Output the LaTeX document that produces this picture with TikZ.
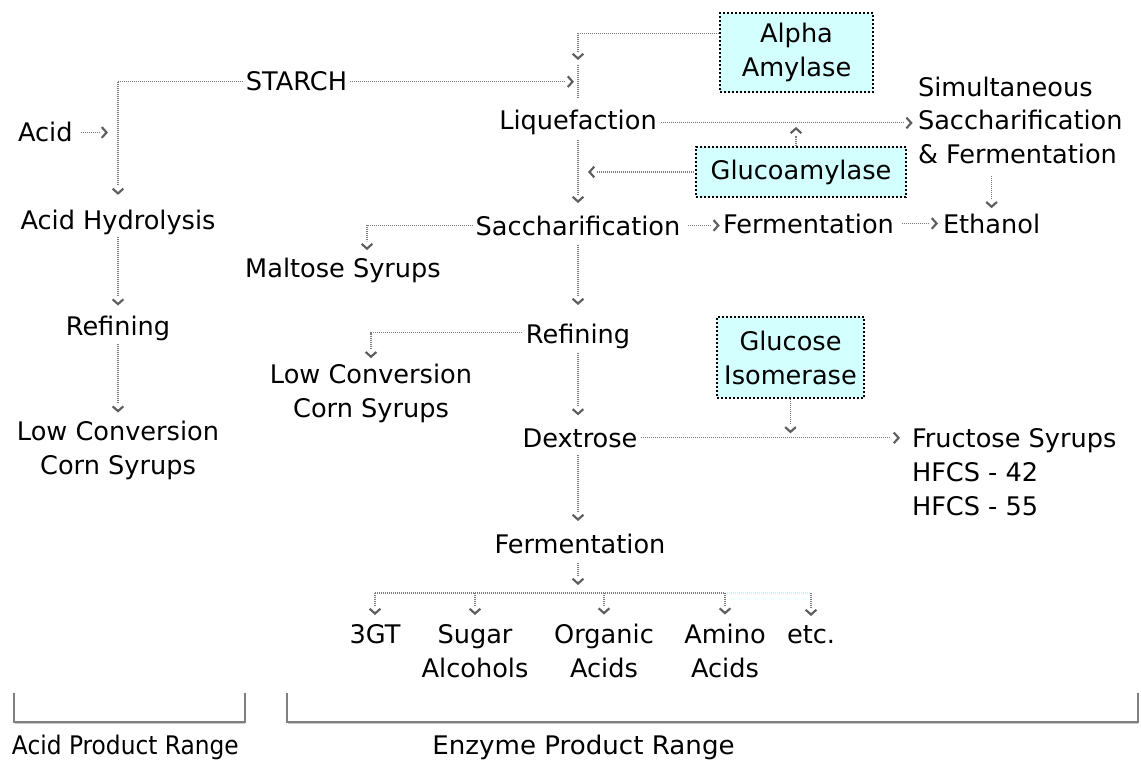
\documentclass[tikz,border=0pt]{standalone}
\usepackage{fontspec}
\setmainfont{DejaVu Sans}
\usepackage{graphicx}
\usetikzlibrary{arrows.meta,calc,decorations.markings}
\definecolor{linegray}{HTML}{7A7A7A}
\definecolor{chevgray}{HTML}{5E5E5E}
\definecolor{boxcyan}{HTML}{D4FFFF}
\definecolor{fadecyan}{HTML}{BFF2F2}
\definecolor{brgray}{HTML}{808080}
\definecolor{brshade}{HTML}{C8C8C8}
\newcommand\mainsz{\fontsize{19.2pt}{25.5pt}\selectfont}
\tikzset{chev/.tip={Straight Barb[length=3.6pt,width=8pt,line width=1.6pt,color=chevgray]}}
\begin{document}
\begin{tikzpicture}[x=0.75pt,y=-0.75pt,
  lbl/.style={inner sep=0pt, outer sep=0pt, align=center, font=\mainsz, anchor=base},
  lbll/.style={inner sep=0pt, outer sep=0pt, align=left, font=\mainsz, anchor=base west},
  enzbox/.style={draw=black, fill=boxcyan, line width=1.5pt, dash pattern=on 1.5pt off 1.5pt, inner sep=0pt, align=center, font=\mainsz},
  conn/.style={draw=linegray, line width=0.8pt, dash pattern=on 0.75pt off 0.75pt},
  % dotted connector that stops short of a separate chevron; #1 = gap between chevron tip and path end
  arr/.style={conn, shorten >=#1+6.5pt,
    postaction={decorate, decoration={markings, mark=at position -#1 with {\arrow{chev}}}}},
  arr/.default=0.01pt,
  bracket/.style={draw=brgray, line width=0.9pt},
  brshadow/.style={draw=brshade, line width=0.9pt},
]
\useasboundingbox (0,0) rectangle (1141,763);

% ---- nodes (multi-line nodes are placed by the baseline of their last line) ----
\node[lbl] (starch) at (296.5,91) {STARCH};
\node[lbll] (acid) at (18,142) {Acid};
\node[lbl] (hyd) at (118,229) {Acid Hydrolysis};
\node[lbl] (ref1) at (118,335) {Refining};
\node[lbl] (lc1) at (118,474) {Low Conversion\\Corn Syrups};

\node[enzbox, minimum width=114.75pt, minimum height=59.25pt] (alpha) at (796.5,52.5) {Alpha\\Amylase};
\node[lbl] (liq) at (578,130) {Liquefaction};
\node[lbll] (ssf) at (918,164) {Simultaneous\\Saccharification\\\& Fermentation};
\node[enzbox, minimum width=157.5pt, minimum height=37.5pt] (gluc) at (801,172) {Glucoamylase};
\node[lbl] (sac) at (578,235) {Saccharification};
\node[lbl] (ferm1) at (808.5,233) {Fermentation};
\node[lbll] (eth) at (943,233) {Ethanol};
\node[lbl] (malt) at (343,277) {Maltose Syrups};
\node[lbl] (ref2) at (578,343) {Refining};
\node[lbl] (lc2) at (371,417) {Low Conversion\\Corn Syrups};
\node[enzbox, minimum width=110.25pt, minimum height=60.75pt] (gi) at (790.5,357.5) {Glucose\\Isomerase};
\node[lbl] (dex) at (580,447) {Dextrose};
\node[lbll] (fru) at (912,515) {Fructose Syrups\\HFCS - 42\\HFCS - 55};
\node[lbl] (ferm2) at (580,553) {Fermentation};

\node[lbl] (p1) at (375,643) {3GT};
\node[lbl] (p2) at (475,677) {Sugar\\Alcohols};
\node[lbl] (p3) at (604,677) {Organic\\Acids};
\node[lbl] (p4) at (725,677) {Amino\\Acids};
\node[lbl] (p5) at (811,643) {etc.};

\coordinate (aJ) at (578,60);
\coordinate (br) at (578,593);

% ---- connectors: acid side ----
\draw[arr=11pt, shorten <=2pt] (starch.west) -| (hyd.north);
\draw[arr=7.5pt, shorten <=6pt] (acid.east) -- (acid.east -| hyd.north);
\draw[arr=7.5pt, shorten <=2pt] (hyd.south) -- (ref1.north);
\draw[arr=6pt, shorten <=3pt] (ref1.south) -- (lc1.north);

% ---- connectors: enzyme side ----
\draw[arr=3pt, shorten <=2pt] (starch.east) -- (starch.east -| liq.north);
\draw[arr] ([yshift=13.9pt]alpha.west) -| (aJ);
\draw[conn, shorten <=4pt, shorten >=9.4pt] (aJ) -- (liq.north);
\draw[arr=4pt, shorten <=3pt] (liq.east) -- (liq.east -| ssf.west);
\draw[arr=3pt] ([xshift=-3.75pt]gluc.north) -- ([xshift=-3.75pt]gluc.north |- liq.east);
\draw[arr=7.5pt, shorten <=1pt] (gluc.west) -- (gluc.west -| liq.south);
\draw[arr=9.4pt, shorten <=3.75pt] (liq.south) -- (sac.north);
\draw[arr=5.6pt, shorten <=2pt] (sac.west) -| ([xshift=18pt]malt.north);
\draw[arr=2.5pt, shorten <=6pt] (sac.east) -- (sac.east -| ferm1.west);
\draw[arr=3.75pt, shorten <=6pt] (ferm1.east) -- (ferm1.east -| eth.west);
\draw[arr=4pt, shorten <=9pt] (ssf.south -| eth.north) -- (eth.north);
\draw[arr=13.9pt, shorten <=7.5pt] (sac.south) -- (ref2.north);
\draw[arr=4pt, shorten <=3pt] ([yshift=2.25pt]ref2.west) -| (lc2.north);
\draw[arr=9.75pt, shorten <=3.75pt] (ref2.south) -- (ref2.south |- dex.north);
\draw[arr=9pt, shorten <=3pt] (dex.east) -- (dex.east -| fru.west);
\draw[arr=3.4pt] (gi.south) -- (gi.south |- dex.east);
\draw[arr=9.4pt, shorten <=6pt] (dex.south -| ref2.south) -- (ref2.south |- ferm2.north);
\draw[arr=6pt, shorten <=7.5pt] (ferm2.south -| br) -- (br);
\draw[conn] (br -| p1.north) -- (br -| p4.north);
\draw[conn, draw=fadecyan] (br -| p4.north) -- (br -| p5.north);
\foreach \p in {p1,p2,p3,p4,p5}
  \draw[arr=6.75pt] (br -| \p.north) -- (\p.north);

% ---- range brackets ----
\draw[brshadow] (15,723.5) -- (245,723.5);
\draw[brshadow] (288,723.5) -- (1138,723.5);
\draw[bracket] (14,693) -- (14,722) -- (245,722) -- (245,693);
\draw[bracket] (287,693) -- (287,722) -- (1138,722) -- (1138,693);
\node[lbll] (acidrange) at (12,754) {\scalebox{0.91}[1]{Acid Product Range}};
\node[lbl] (enzrange) at (583.5,754) {\scalebox{1.02}[1]{Enzyme Product Range}};
\end{tikzpicture}
\end{document}
